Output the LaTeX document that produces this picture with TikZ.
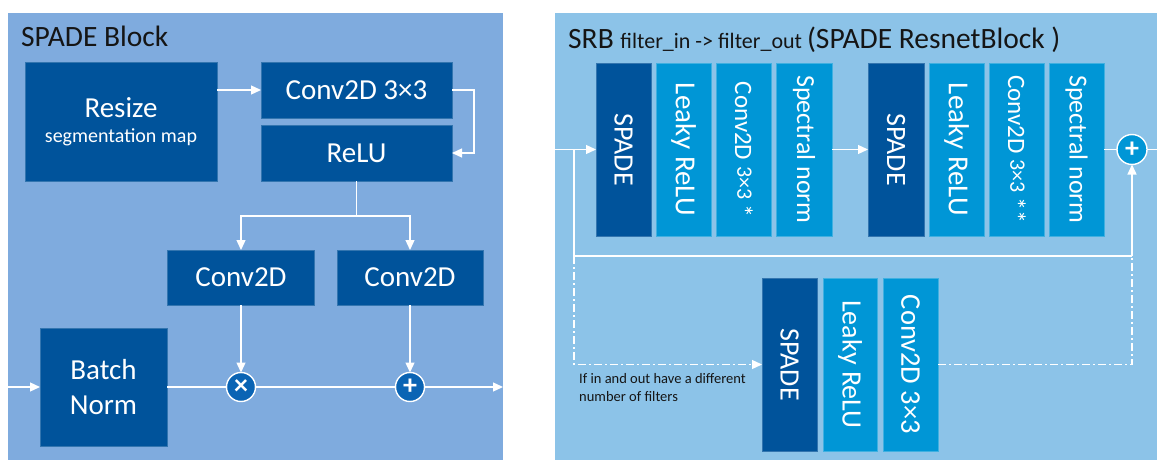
\documentclass[tikz,border=0pt]{standalone}
\usepackage{fontspec}
\setmainfont{Carlito}
\usetikzlibrary{arrows.meta}
\definecolor{panelL}{HTML}{7FABDE}
\definecolor{panelR}{HTML}{8CC3E8}
\definecolor{dkblue}{HTML}{00539B}
\definecolor{mdblue}{HTML}{0096D6}
\definecolor{circL}{HTML}{0A64B4}
\definecolor{txtdark}{HTML}{151515}
\newcommand{\fs}[1]{\fontsize{#1}{\the\dimexpr #1pt*6/5\relax}\selectfont}
\tikzset{
  box/.style={rectangle, inner sep=0pt, outer sep=0pt, text=white, align=center},
  dbox/.style={box, fill=dkblue, draw=dkblue!80!white, line width=0.8pt},
  mbox/.style={box, fill=mdblue, draw=mdblue!75!white, line width=0.8pt},
  wline/.style={draw=white, line width=1.3pt},
  arr/.style={wline, -{Triangle[length=10pt,width=9pt]}},
  dashdot/.style={dash pattern=on 8pt off 3pt on 2pt off 3pt},
  opcirc/.style={circle, draw=white, line width=1.4pt, minimum size=29pt, inner sep=0pt, outer sep=0pt, text=white, font=\fs{28}\bfseries},
  bigtxt/.style={font=\fs{29}},
}
\begin{document}
\begin{tikzpicture}[x=1pt, y=-1pt]
\useasboundingbox (0,0) rectangle (1157,460);
\fill[white] (0,0) rectangle (1157,460);
% panels
\fill[panelL] (8,13) rectangle (503,460);
\fill[panelR] (555,13) rectangle (1157,460);

% ---------- left panel ----------
\node[anchor=base west, text=txtdark, font=\fs{29.5}, inner sep=0pt] (ltitle) at (21,47) {SPADE Block};

\node[dbox, minimum width=192pt, minimum height=119pt, font=\fontsize{20}{25}\selectfont] (resize) at (121,121.5)
  {\raisebox{-3pt}{\fs{29}Resize}\\\raisebox{-3pt}{segmentation map}};
\node[dbox, bigtxt, minimum width=191pt, minimum height=56pt] (conv33) at (356.5,90) {Conv2D 3×3};
\node[dbox, bigtxt, minimum width=191pt, minimum height=56pt] (relu) at (356.5,153) {ReLU};
\node[dbox, bigtxt, minimum width=147pt, minimum height=55pt] (convA) at (241,277.5) {Conv2D};
\node[dbox, bigtxt, minimum width=146pt, minimum height=55pt] (convB) at (410,277.5) {Conv2D};
\node[dbox, bigtxt, minimum width=127pt, minimum height=118pt] (bn) at (103.5,387) {Batch\\Norm};
\node[opcirc, fill=circL] (mul) at (241,387) {×};
\node[opcirc, fill=circL] (add) at (410,387) {+};

\coordinate (lin) at (8,387);
\coordinate (lout) at (503,387);
\coordinate (split) at (356.5,216);

\draw[arr] (resize.east |- conv33.west) -- (conv33.west);
\draw[arr] (conv33.east) -- ++(22,0) |- (relu.east);
\draw[wline] (relu.south) -- (split);
\draw[arr] (split) -| (convA.north);
\draw[arr] (split) -| (convB.north);
\draw[arr] (convA.south) -- (mul.north);
\draw[arr] (convB.south) -- (add.north);
\draw[arr] (lin) -- (bn.west);
\draw[wline] (bn.east) -- (mul.west);
\draw[wline] (mul.east) -- (add.west);
\draw[arr] (add.east) -- (lout);

% ---------- right panel ----------
\node[anchor=base west, text=txtdark, inner sep=0pt] (rtitle) at (568,49)
  {{\fs{29.5}SRB }{\fs{22}filter\_in -> filter\_out }{\fs{29.5}(SPADE ResnetBlock )}};

\node[dbox, minimum width=55pt, minimum height=173pt] (s1) at (623.5,149.5) {\rotatebox{-90}{\fs{28}SPADE}};
\node[mbox, minimum width=55pt, minimum height=173pt] (l1) at (683.5,149.5) {\rotatebox{-90}{\fs{29}Leaky ReLU}};
\node[mbox, minimum width=55pt, minimum height=173pt] (c1) at (743.5,149.5) {\rotatebox{-90}{\fs{25}Conv2D \raisebox{2.2pt}{\fs{22}3×3 \raisebox{-3pt}{\fs{26}*}}}};
\node[mbox, minimum width=56pt, minimum height=173pt] (n1) at (804,149.5) {\rotatebox{-90}{\fs{26}Spectral norm}};

\node[dbox, minimum width=56pt, minimum height=173pt] (s2) at (896,149.5) {\rotatebox{-90}{\fs{28}SPADE}};
\node[mbox, minimum width=55pt, minimum height=173pt] (l2) at (956.5,149.5) {\rotatebox{-90}{\fs{29}Leaky ReLU}};
\node[mbox, minimum width=55pt, minimum height=173pt] (c2) at (1016.5,149.5) {\rotatebox{-90}{\fs{25}Conv2D \raisebox{2.2pt}{\fs{22}3×3 \raisebox{-3pt}{\fs{26}**}}}};
\node[mbox, minimum width=55pt, minimum height=173pt] (n2) at (1076.5,149.5) {\rotatebox{-90}{\fs{26}Spectral norm}};

\node[opcirc, fill=mdblue, minimum size=30pt] (plus) at (1132,149.5) {+};

\node[dbox, minimum width=55pt, minimum height=173pt] (s3) at (789.5,364.5) {\rotatebox{-90}{\fs{28}SPADE}};
\node[mbox, minimum width=54pt, minimum height=173pt] (l3) at (850,364.5) {\rotatebox{-90}{\fs{28}Leaky ReLU}};
\node[mbox, minimum width=55pt, minimum height=173pt] (c3) at (910.5,364.5) {\rotatebox{-90}{\fs{28.5}Conv2D 3×3}};

\node[anchor=north west, align=left, text=txtdark, font=\fontsize{14.5}{18}\selectfont, inner sep=0pt] (note) at (579,373.5)
  {If in and out have a different\\number of filters};

\coordinate (rin) at (555,149.5);
\coordinate (rout) at (1157,149.5);
\coordinate (br) at (574,149.5);
\coordinate (bl) at (574,256);
\coordinate (brr) at (1132,256);
\coordinate (dl) at (574,364.5);
\coordinate (dr) at (1132,364.5);

\draw[arr] (rin) -- (s1.west);
\draw[arr] (n1.east) -- (s2.west);
\draw[wline] (n2.east) -- (plus.west);
\draw[wline] (plus.east) -- (rout);
\draw[wline] (br) -- (bl) -- (brr);
\draw[arr] (brr) -- (plus.south);
\draw[arr, dashdot] (bl) -- (dl) -- (s3.west);
\draw[wline, dashdot] (c3.east) -- (dr) -- (brr);
\end{tikzpicture}
\end{document}
